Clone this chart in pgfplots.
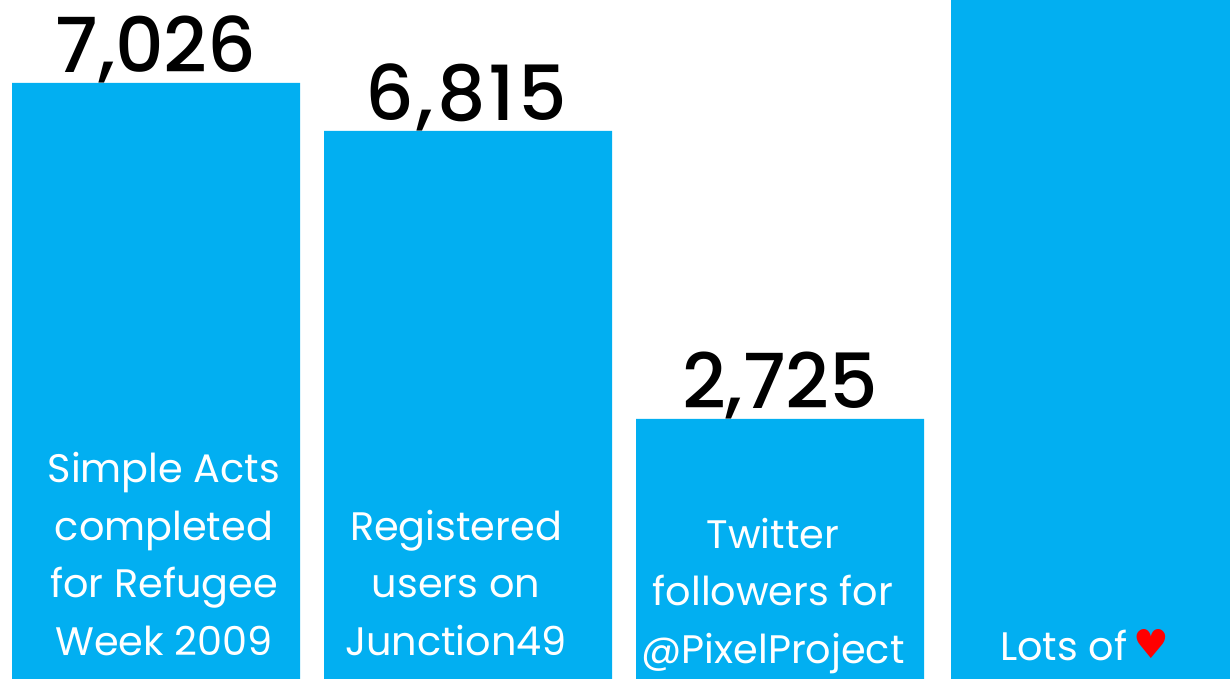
\documentclass[border=0pt]{standalone}
\usepackage{pgfplots}
\pgfplotsset{compat=1.18}
\usepackage{fontspec}
\setmainfont{Poppins}
\newfontfamily\numfont{Poppins Medium}
\newfontfamily\symfont{DejaVu Sans}
\definecolor{barblue}{HTML}{02AFF1}
\begin{document}
\begin{tikzpicture}
\useasboundingbox (0,0) rectangle (1230pt,679pt);
\begin{axis}[
  at={(0pt,0pt)}, anchor=south west,
  scale only axis, width=1230pt, height=679pt,
  xmin=0, xmax=1230, ymin=0, ymax=679,
  axis lines=none, clip=false,
  ybar=0pt, enlargelimits=false,
  nodes near coords, point meta=explicit symbolic,
  every node near coord/.append style={font=\numfont\fontsize{76}{76}\selectfont, text=black, inner sep=0pt, yshift=0pt, anchor=south},
]
\addplot[fill=barblue, draw=none, bar width=288pt, bar shift=0pt] coordinates {(156,596)[7,026] (468,548)[{\addfontfeature{LetterSpace=4}\hspace*{-4pt}6,815}] (780,260)[2,725]};
\addplot[fill=barblue, draw=none, bar width=279pt, bar shift=0pt] coordinates {(1090.5,679)[]};
\end{axis}
\begin{scope}[x=1pt,y=-1pt,shift={(0pt,679pt)}]
\tikzset{lab/.style={text=white, align=center, font=\fontsize{39.8}{57.5}\selectfont, inner sep=0pt, anchor=center}}
\node[lab] at (164,554) {Simple Acts\\completed\\for Refugee\\Week 2009};
\node[lab] at (456,583) {Registered\\users on\\Junction49};
\node[lab] at (773,596) {Twitter\\followers for\\@PixelProject};
\node[lab] at (1084.5,645) {Lots of\hspace{-5pt} {\symfont\textcolor{red}{\raisebox{2pt}{♥}}}};
\end{scope}
\end{tikzpicture}
\end{document}
